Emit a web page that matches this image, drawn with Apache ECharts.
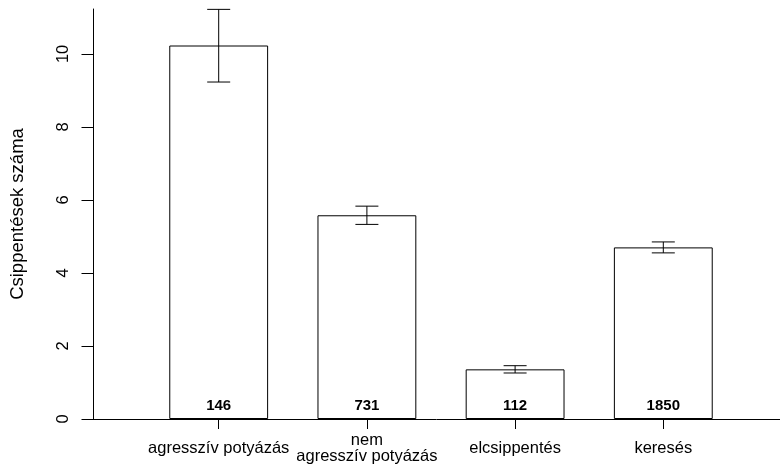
<!DOCTYPE html>
<html>
<head>
<meta charset="utf-8">
<script src="https://cdn.jsdelivr.net/npm/echarts@6/dist/echarts.min.js"></script>
<style>html,body{margin:0;padding:0;background:#fff;}#c{width:780px;height:476px;}</style>
</head>
<body>
<div id="c"></div>
<script>
const categories = ['agresszív potyázás', 'nem\nagresszív potyázás', 'elcsippentés', 'keresés'];
const means = [10.23, 5.58, 1.36, 4.70];
const errLow = [9.23, 5.33, 1.26, 4.55];
const errHigh = [11.22, 5.83, 1.46, 4.85];
const counts = [146, 731, 112, 1850];
const yTicks = [0, 2, 4, 6, 8, 10];
const yMax = 11.23;

const FONT = "'Liberation Sans', Arial, Helvetica, sans-serif";
const chart = echarts.init(document.getElementById('c'), null, {renderer: 'canvas'});

const errData = categories.map((c, i) => [i, errLow[i], errHigh[i]]);

chart.setOption({
  animation: false,
  backgroundColor: '#fff',
  grid: [
    {left: 144.1, right: 42.6, top: 9, bottom: 57, containLabel: false},
    {left: 93, right: 0, top: 9, bottom: 57, containLabel: false}
  ],
  xAxis: [
    {
      type: 'category', gridIndex: 0, data: categories,
      axisLine: {show: false},
      axisTick: {show: true, alignWithLabel: true, length: 10, lineStyle: {color: '#000', width: 1}},
      axisLabel: {color: '#000', fontFamily: FONT, fontSize: 16.5, margin: 29,
                  verticalAlign: 'middle', lineHeight: 16, interval: 0},
      splitLine: {show: false}
    },
    {
      type: 'value', gridIndex: 1, min: 0, max: 1,
      axisLine: {show: true, lineStyle: {color: '#000', width: 1}},
      axisTick: {show: false}, axisLabel: {show: false}, splitLine: {show: false}
    }
  ],
  yAxis: [
    {
      type: 'value', gridIndex: 0, min: 0, max: yMax, offset: 51.1,
      name: 'Csippentések száma', nameLocation: 'middle', nameGap: 66.5,
      nameTextStyle: {color: '#000', fontFamily: FONT, fontSize: 18.5},
      axisLine: {show: true, lineStyle: {color: '#000', width: 1}},
      axisTick: {show: true, length: 12, customValues: yTicks, lineStyle: {color: '#000', width: 1}},
      axisLabel: {show: true, rotate: 90, customValues: yTicks, margin: 22,
                  color: '#000', fontFamily: FONT, fontSize: 16.5},
      splitLine: {show: false}
    },
    {
      type: 'value', gridIndex: 1, min: 0, max: yMax, show: false
    }
  ],
  series: [
    {
      type: 'bar', xAxisIndex: 0, yAxisIndex: 0,
      data: means,
      barWidth: '66.7%',
      itemStyle: {color: '#fff', borderColor: '#000', borderWidth: 1},
      label: {
        show: true, position: 'insideBottom', distance: 6,
        formatter: p => String(counts[p.dataIndex]),
        color: '#000', fontFamily: FONT, fontWeight: 'bold', fontSize: 15
      },
      z: 2
    },
    {
      type: 'custom', xAxisIndex: 0, yAxisIndex: 0,
      data: errData,
      renderItem: function (params, api) {
        const x = api.value(0);
        const lo = api.coord([x, api.value(1)]);
        const hi = api.coord([x, api.value(2)]);
        const hw = 11.5;
        const st = {stroke: '#000', lineWidth: 1, fill: null};
        return {
          type: 'group',
          children: [
            {type: 'line', shape: {x1: hi[0], y1: hi[1], x2: lo[0], y2: lo[1]}, style: st},
            {type: 'line', shape: {x1: hi[0] - hw, y1: hi[1], x2: hi[0] + hw, y2: hi[1]}, style: st},
            {type: 'line', shape: {x1: lo[0] - hw, y1: lo[1], x2: lo[0] + hw, y2: lo[1]}, style: st}
          ]
        };
      },
      z: 3
    }
  ]
});
</script>
</body>
</html>
